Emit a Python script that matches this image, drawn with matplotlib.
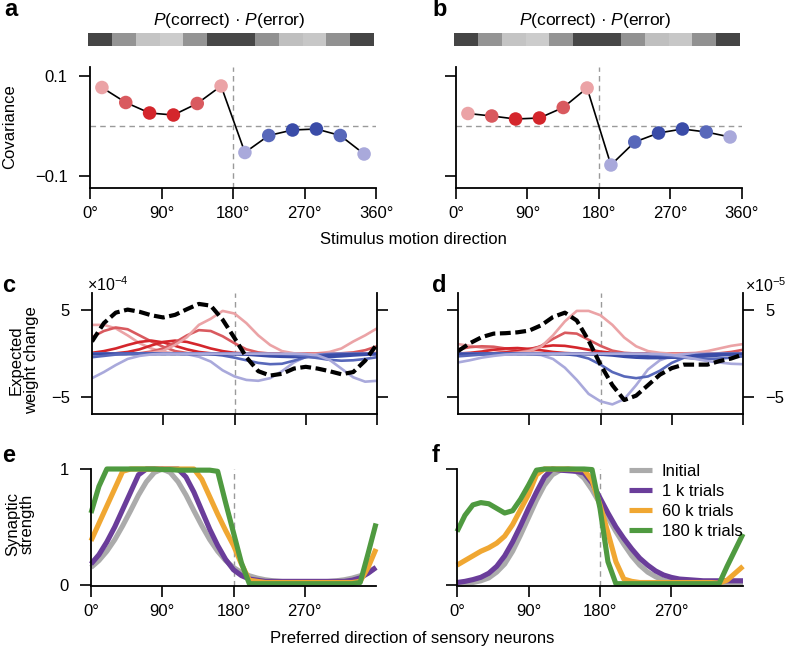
import numpy as np
import matplotlib
matplotlib.use('Agg')
import matplotlib.pyplot as plt

plt.rcParams['font.family'] = ['Liberation Sans', 'DejaVu Sans']
plt.rcParams['mathtext.fontset'] = 'custom'
plt.rcParams['mathtext.rm'] = 'Liberation Sans'
plt.rcParams['mathtext.it'] = 'Liberation Sans:italic'
plt.rcParams['font.size'] = 12
plt.rcParams['axes.linewidth'] = 1.3
for k in ('xtick', 'ytick'):
    plt.rcParams[k + '.major.size'] = 8
    plt.rcParams[k + '.major.width'] = 1.2
    plt.rcParams[k + '.labelsize'] = 12
plt.rcParams['xtick.major.pad'] = 5
plt.rcParams['ytick.major.pad'] = 8

# ---- data ----
stim_dirs = [15, 45, 75, 105, 135, 165, 195, 225, 255, 285, 315, 345]
cov_a = [0.078, 0.048, 0.027, 0.023, 0.046, 0.081, -0.052, -0.018, -0.007, -0.005, -0.018, -0.055]
cov_b = [0.026, 0.021, 0.015, 0.017, 0.038, 0.077, -0.077, -0.031, -0.013, -0.005, -0.011, -0.021]
pc_pe_gray = [0.27, 0.58, 0.77, 0.80, 0.58, 0.28, 0.28, 0.57, 0.75, 0.78, 0.57, 0.27]
stim_colors = ['#eba3a6', '#d95a5f', '#d4262c', '#d4262c', '#d95a5f', '#eba3a6',
               '#a9a9db', '#5868ba', '#3a4ca8', '#3a4ca8', '#5868ba', '#a9a9db']

deg = [0, 15, 30, 45, 60, 75, 90, 105, 120, 135, 150, 165, 180,
       195, 210, 225, 240, 255, 270, 285, 300, 315, 330, 345, 360]

c_15 = [3.3, 3.3, 2.9, 2.1, 1.2, 0.6, 0.2, 0.05, 0, 0, 0, 0, 0, 0, 0, 0, 0, 0, 0, 0.05, 0.2, 0.6, 1.4, 2.1, 2.9]
c_45 = [1.9, 2.6, 3.0, 2.8, 2.1, 1.4, 0.8, 0.3, 0.08, 0, 0, 0, 0, 0, 0, 0, 0, 0, 0, 0, 0, 0.05, 0.15, 0.4, 0.85]
c_75 = [0.1, 0.3, 0.6, 1.0, 1.35, 1.5, 1.3, 0.9, 0.5, 0.2, 0.05, 0, 0, 0, 0, 0, 0, 0, 0, 0, 0, 0, 0, 0.02, 0.08]
c_105 = [0, 0, 0.05, 0.2, 0.5, 0.95, 1.35, 1.5, 1.35, 1.0, 0.6, 0.3, 0.1, 0.02, 0, 0, 0, 0, 0, 0, 0, 0, 0, 0, 0]
c_135 = [0, 0, 0, 0, 0.05, 0.25, 0.6, 1.3, 2.1, 2.7, 2.6, 2.0, 1.2, 0.5, 0.15, 0.02, 0, 0, 0, 0, 0, 0, 0, 0, 0]
c_165 = [0, 0, 0, 0, 0, 0.1, 0.35, 1.0, 1.9, 3.3, 4.0, 4.9, 4.6, 3.5, 2.1, 1.0, 0.3, 0.05, 0, 0, 0, 0, 0, 0, 0]
c_195 = [0, 0, 0, 0, 0, 0, 0, 0, -0.05, -0.35, -0.9, -1.9, -2.6, -3.0, -3.1, -2.8, -2.0, -1.0, -0.35, -0.1, 0, 0, 0, 0, 0]
c_225 = [0, 0, 0, 0, 0, 0, 0, 0, 0, 0, -0.05, -0.2, -0.45, -0.75, -1.05, -1.2, -1.15, -0.8, -0.4, -0.15, -0.05, 0, 0, 0, 0]
c_255 = [-0.02, -0.02, -0.02, -0.02, -0.02, -0.02, -0.02, -0.02, -0.02, -0.02, -0.03, -0.04, -0.05, -0.1, -0.2, -0.3, -0.35, -0.38, -0.35, -0.28, -0.18, -0.1, -0.05, -0.03, -0.02]
c_285 = [-0.05, -0.03, -0.02, -0.02, -0.02, -0.02, -0.02, -0.02, -0.02, -0.02, -0.02, -0.02, -0.03, -0.04, -0.05, -0.1, -0.2, -0.3, -0.37, -0.4, -0.37, -0.3, -0.2, -0.12, -0.06]
c_315 = [-0.4, -0.25, -0.1, -0.03, 0, 0, 0, 0, 0, 0, 0, 0, 0, 0, 0, -0.02, -0.05, -0.15, -0.3, -0.5, -0.7, -0.8, -0.75, -0.6, -0.4]
c_345 = [-2.8, -2.1, -1.3, -0.6, -0.25, -0.08, 0, 0, 0, 0, 0, 0, 0, 0, 0, 0, 0, 0, -0.05, -0.2, -0.7, -1.7, -2.7, -3.2, -3.1]
c_sum = [1.4, 3.5, 4.7, 5.05, 4.8, 4.4, 4.15, 4.45, 5.1, 5.7, 5.5, 3.9, 1.8, -0.4, -2.0, -2.5, -2.3, -1.7, -1.5, -1.7, -2.0, -2.35, -2.1, -0.8, 1.1]

d_15 = [1.1, 0.9, 0.7, 0.45, 0.25, 0.1, 0.03, 0, 0, 0, 0, 0, 0, 0, 0, 0, 0, 0, 0, 0.03, 0.1, 0.3, 0.6, 0.9, 1.1]
d_45 = [0.5, 0.75, 0.85, 0.8, 0.6, 0.35, 0.15, 0.05, 0, 0, 0, 0, 0, 0, 0, 0, 0, 0, 0, 0, 0, 0, 0.05, 0.2, 0.45]
d_75 = [0.02, 0.1, 0.25, 0.45, 0.6, 0.65, 0.55, 0.4, 0.2, 0.08, 0.02, 0, 0, 0, 0, 0, 0, 0, 0, 0, 0, 0, 0, 0, 0.02]
d_105 = [0, 0, 0, 0.05, 0.15, 0.3, 0.55, 0.8, 0.95, 0.9, 0.7, 0.45, 0.25, 0.1, 0.03, 0, 0, 0, 0, 0, 0, 0, 0, 0, 0]
d_135 = [0, 0, 0, 0, 0.05, 0.15, 0.4, 0.9, 1.7, 2.4, 2.3, 1.6, 0.9, 0.35, 0.1, 0.02, 0, 0, 0, 0, 0, 0, 0, 0, 0]
d_165 = [0, 0, 0, 0, 0, 0.1, 0.3, 0.8, 2.1, 3.7, 4.9, 4.9, 4.4, 3.3, 1.85, 0.85, 0.3, 0.1, 0, 0, 0, 0, 0, 0, 0]
d_195 = [0, 0, 0, 0, 0, 0, -0.03, -0.15, -0.6, -1.6, -3.0, -4.6, -5.45, -5.8, -5.2, -3.6, -1.8, -0.75, -0.25, -0.05, 0, 0, 0, 0, 0]
d_225 = [0, 0, 0, 0, 0, 0, 0, 0, 0, -0.05, -0.2, -0.55, -1.25, -2.1, -2.6, -2.8, -2.6, -1.95, -1.05, -0.47, -0.15, -0.05, 0, 0, 0]
d_255 = [-0.03, -0.03, -0.03, -0.03, -0.03, -0.03, -0.03, -0.03, -0.03, -0.03, -0.04, -0.05, -0.1, -0.2, -0.35, -0.45, -0.5, -0.5, -0.45, -0.35, -0.2, -0.1, -0.05, -0.03, -0.03]
d_285 = [-0.05, -0.03, -0.02, -0.02, -0.02, -0.02, -0.02, -0.02, -0.02, -0.02, -0.02, -0.02, -0.03, -0.05, -0.1, -0.2, -0.3, -0.4, -0.45, -0.45, -0.4, -0.3, -0.2, -0.1, -0.05]
d_315 = [-0.3, -0.2, -0.1, -0.03, 0, 0, 0, 0, 0, 0, 0, 0, 0, 0, 0, -0.02, -0.05, -0.15, -0.3, -0.45, -0.55, -0.6, -0.55, -0.45, -0.3]
d_345 = [-1.0, -0.75, -0.45, -0.25, -0.1, -0.03, 0, 0, 0, 0, 0, 0, 0, 0, 0, 0, 0, -0.05, -0.15, -0.35, -0.6, -0.85, -1.0, -1.15, -1.2]
d_sum = [0.3, 1.2, 1.9, 2.3, 2.35, 2.45, 2.65, 3.25, 4.2, 4.7, 3.8, 1.5, -1.25, -3.6, -5.3, -4.8, -3.6, -2.4, -1.65, -1.25, -1.25, -1.25, -0.85, -0.55, -0.08]

pref = [0, 10, 20, 30, 40, 50, 60, 70, 80, 90, 100, 110, 120, 130, 140, 150, 160, 170, 180,
        190, 200, 210, 220, 230, 240, 250, 260, 270, 280, 290, 300, 310, 320, 330, 340, 350, 360]
e_init = [0.15, 0.21, 0.29, 0.39, 0.51, 0.64, 0.775, 0.89, 0.97, 1.0, 0.97, 0.89, 0.775, 0.64, 0.51, 0.39, 0.29, 0.21, 0.15,
          0.107, 0.078, 0.058, 0.044, 0.035, 0.029, 0.025, 0.023, 0.022, 0.023, 0.025, 0.029, 0.035, 0.044, 0.058, 0.078, 0.107, 0.15]
e_1k = [0.18, 0.26, 0.37, 0.5, 0.65, 0.8, 0.95, 1.0, 1.0, 1.0, 1.0, 1.0, 0.93, 0.8, 0.64, 0.48, 0.34, 0.22, 0.13,
        0.08, 0.05, 0.04, 0.03, 0.03, 0.03, 0.03, 0.03, 0.03, 0.03, 0.03, 0.03, 0.03, 0.03, 0.04, 0.06, 0.1, 0.15]
e_60k = [0.38, 0.53, 0.68, 0.83, 0.98, 1.0, 1.0, 1.0, 1.0, 1.0, 1.0, 1.0, 1.0, 1.0, 0.91, 0.76, 0.61, 0.47, 0.34,
         0.18, 0.04, 0.03, 0.02, 0.02, 0.02, 0.02, 0.02, 0.02, 0.02, 0.02, 0.02, 0.02, 0.02, 0.02, 0.03, 0.15, 0.31]
e_180k = [0.62, 0.85, 1.0, 1.0, 1.0, 1.0, 1.0, 1.0, 1.0, 0.995, 0.995, 0.99, 0.99, 0.99, 0.99, 0.99, 0.98, 0.71, 0.45,
          0.19, 0.01, 0.01, 0.01, 0.01, 0.01, 0.01, 0.01, 0.01, 0.01, 0.01, 0.01, 0.01, 0.01, 0.01, 0.02, 0.27, 0.53]

f_init = [0.005, 0.01, 0.02, 0.035, 0.06, 0.11, 0.18, 0.29, 0.43, 0.58, 0.73, 0.86, 0.95, 0.99, 1.0, 0.98, 0.92, 0.82, 0.7,
          0.58, 0.46, 0.35, 0.25, 0.17, 0.11, 0.07, 0.04, 0.025, 0.015, 0.01, 0.01, 0.01, 0.01, 0.01, 0.01, 0.01, 0.01]
f_1k = [0.02, 0.03, 0.045, 0.065, 0.1, 0.16, 0.25, 0.37, 0.51, 0.66, 0.8, 0.93, 1.0, 0.99, 0.985, 0.98, 0.965, 0.88, 0.75,
        0.62, 0.5, 0.4, 0.31, 0.23, 0.17, 0.12, 0.085, 0.064, 0.05, 0.045, 0.04, 0.035, 0.035, 0.035, 0.035, 0.035, 0.035]
f_60k = [0.17, 0.21, 0.25, 0.29, 0.32, 0.36, 0.42, 0.52, 0.65, 0.78, 0.95, 1.0, 1.0, 1.0, 1.0, 0.995, 0.995, 0.9, 0.69,
         0.45, 0.2, 0.05, 0.03, 0.02, 0.02, 0.02, 0.02, 0.02, 0.02, 0.02, 0.02, 0.02, 0.02, 0.015, 0.04, 0.1, 0.16]
f_180k = [0.46, 0.6, 0.69, 0.71, 0.7, 0.66, 0.62, 0.64, 0.74, 0.86, 0.99, 1.0, 1.0, 1.0, 1.0, 1.0, 1.0, 0.995, 0.66,
          0.2, 0.01, 0.01, 0.01, 0.01, 0.01, 0.01, 0.01, 0.01, 0.01, 0.01, 0.01, 0.01, 0.01, 0.01, 0.16, 0.3, 0.44]

train_labels = ['Initial', '1 k trials', '60 k trials', '180 k trials']
train_colors = ['#ababab', '#6a3d9a', '#f0a732', '#4f9a40']
deg_ticks = [0, 90, 180, 270, 360]
deg_labels = ['0°', '90°', '180°', '270°', '360°']

# ---- figure ----
W, H = 788, 648
fig = plt.figure(figsize=(W / 100, H / 100), dpi=100)


def ax_px(l, t, r, b):
    return fig.add_axes([l / W, 1 - b / H, (r - l) / W, (b - t) / H])


def ftext(x, y, s, **kw):
    fig.text(x / W, 1 - y / H, s, **kw)


refc = '#9a9a9a'


def ref_lines(ax, horiz=True):
    ax.axvline(180, color=refc, lw=1, dashes=(4, 3), zorder=0)
    if horiz:
        ax.axhline(0, color=refc, lw=1, dashes=(4, 3), zorder=0)


# panels a, b
for (l, r, cov, letter, lx) in [(90, 376, cov_a, 'a', 4), (456, 742, cov_b, 'b', 432)]:
    ax = ax_px(l, 67, r, 188)
    ref_lines(ax)
    ax.plot(stim_dirs, cov, color='k', lw=1.2, zorder=2)
    ax.scatter(stim_dirs, cov, s=95, c=stim_colors, linewidths=0, zorder=3)
    ax.set_xlim(0, 360)
    ax.set_ylim(-0.123, 0.119)
    ax.set_xticks(deg_ticks)
    ax.set_xticklabels(deg_labels)
    ax.set_yticks([-0.1, 0.1])
    if letter == 'a':
        ax.set_yticklabels(['\u22120.1', '0.1'])
    else:
        ax.set_yticklabels([])
    ax.spines['top'].set_visible(False)
    ax.spines['right'].set_visible(False)
    # P(correct)*P(error) strip
    bx = ax_px(l - 2, 33, r - 2, 46)
    bx.bar(range(12), [1] * 12, width=1.0, color=[str(g) for g in pc_pe_gray], linewidth=0)
    bx.set_xlim(-0.5, 11.5)
    bx.set_ylim(0, 1)
    bx.axis('off')
    ftext((l + r) / 2 - 4, 20, '$P$(correct) \u00b7 $P$(error)', ha='center', va='center', fontsize=12.5)
    ftext(lx, 10, letter, fontsize=17, fontweight='bold', va='center', ha='left')

ftext(10, 127, 'Covariance', rotation=90, ha='center', va='center')
ftext(413, 240, 'Stimulus motion direction', ha='center', va='center')

# panels c, d
c_lines = [c_15, c_45, c_75, c_105, c_135, c_165, c_195, c_225, c_255, c_285, c_315, c_345]
d_lines = [d_15, d_45, d_75, d_105, d_135, d_165, d_195, d_225, d_255, d_285, d_315, d_345]
for (l, r, lines, total, letter, lx) in [(92, 377, c_lines, c_sum, 'c', 2), (458, 743, d_lines, d_sum, 'd', 432)]:
    ax = ax_px(l, 293, r, 414)
    ref_lines(ax)
    for ys, col in zip(lines, stim_colors):
        ax.plot(deg, ys, color=col, lw=1.9, zorder=1)
    ax.plot(deg, total, color='k', lw=3, dashes=(2.6, 1.1), zorder=4)
    ax.set_xlim(0, 360)
    ax.set_ylim(-6.9, 6.95)
    ax.set_xticks([90, 180, 270, 360])
    ax.set_xticklabels([])
    ax.set_yticks([-5, 5])
    ax.set_yticklabels(['\u22125', '5'])
    ax.spines['top'].set_visible(False)
    if letter == 'c':
        ax.tick_params(axis='y', right=True, labelright=False, labelleft=True)
    else:
        ax.tick_params(axis='y', right=True, labelright=True, labelleft=False)
    ftext(lx, 286, letter, fontsize=17, fontweight='bold', va='center', ha='left')

ftext(108, 285, '\u00d710$^{\u22124}$', ha='center', va='center', fontsize=11.5)
ftext(766, 286, '\u00d710$^{\u22125}$', ha='center', va='center', fontsize=11.5)
ftext(24, 360, 'Expected\nweight change', rotation=90, ha='center', va='center', linespacing=1.0)

# panels e, f
for (l, r, curves, letter, lx) in [(91, 376, [e_init, e_1k, e_60k, e_180k], 'e', 2),
                                   (457, 743, [f_init, f_1k, f_60k, f_180k], 'f', 432)]:
    ax = ax_px(l, 469, r, 586)
    ref_lines(ax, horiz=False)
    for ys, col, lab in zip(curves, train_colors, train_labels):
        ax.plot(pref, ys, color=col, lw=3.7, label=lab, clip_on=False, solid_capstyle='butt')
    ax.set_xlim(0, 360)
    ax.set_ylim(-0.01, 1.0)
    ax.set_xticks([0, 90, 180, 270])
    ax.set_xticklabels(['0°', '90°', '180°', '270°'])
    ax.set_yticks([0, 1])
    ax.spines['top'].set_visible(False)
    ax.spines['right'].set_visible(False)
    ax.spines['left'].set_bounds(0, 1)
    if letter == 'e':
        ax.set_yticklabels(['0', '1'])
    else:
        ax.set_yticklabels([])
        ax.legend(loc='upper left', bbox_to_anchor=(0.6, 1.045), frameon=False,
                  handlelength=1.4, handletextpad=0.6, labelspacing=0.3,
                  borderpad=0, borderaxespad=0, fontsize=12)
    ftext(lx, 455, letter, fontsize=17, fontweight='bold', va='center', ha='left')

ftext(20, 524, 'Synaptic\nstrength', rotation=90, ha='center', va='center', linespacing=1.0)
ftext(412, 638, 'Preferred direction of sensory neurons', ha='center', va='center')

fig.savefig('out.png', dpi=100)
